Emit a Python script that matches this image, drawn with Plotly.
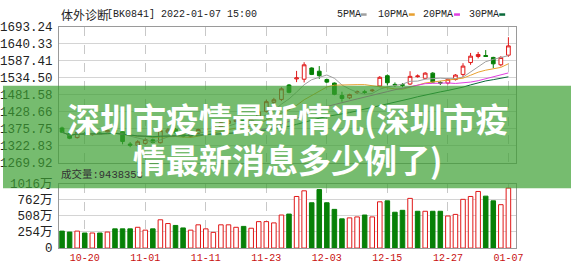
import plotly.graph_objects as go
import pandas as pd

W, H = 578, 276

# ---------------- data ----------------
dates = ["10-15","10-18","10-19","10-20","10-21","10-22","10-25","10-26","10-27","10-28",
         "10-29","11-01","11-02","11-03","11-04","11-05","11-08","11-09","11-10","11-11",
         "11-12","11-15","11-16","11-17","11-18","11-19","11-22","11-23","11-24","11-25",
         "11-26","11-29","11-30","12-01","12-02","12-03","12-06","12-07","12-08","12-09",
         "12-10","12-13","12-14","12-15","12-16","12-17","12-20","12-21","12-22","12-23",
         "12-24","12-27","12-28","12-29","12-30","12-31","01-04","01-05","01-06","01-07"]

open_ = [1378,1361,1348,1361,1357,1362,1366,1371,1366,1328,
         1324,1330,1341,1332,1365,1374,1368,1352,1361,1372,
         1375,1382,1392,1398,1406,1394,1410,1430,1458,1467,
         1512,1531,1530,1565,1555,1529,1518,1479,1472,1488,
         1491,1494,1509,1541,1514,1513,1515,1538,1533,1549,
         1520,1518,1529,1545,1582,1601,1604,1598,1575,1605]
high = [1382,1364,1368,1366,1362,1365,1372,1375,1368,1334,
        1340,1346,1345,1375,1378,1378,1372,1362,1376,1380,
        1386,1398,1404,1410,1410,1412,1436,1466,1472,1505,
        1515,1556,1583,1567,1571,1532,1520,1491,1485,1495,
        1497,1500,1540,1545,1520,1518,1555,1545,1552,1552,
        1524,1533,1546,1580,1612,1615,1621,1600,1602,1661]
low = [1362,1343,1345,1355,1354,1356,1364,1366,1327,1318,
       1320,1326,1330,1330,1360,1360,1348,1348,1358,1368,
       1372,1378,1388,1394,1390,1390,1406,1426,1452,1462,
       1486,1521,1520,1543,1531,1518,1480,1460,1468,1484,
       1484,1490,1505,1511,1506,1505,1512,1535,1530,1518,
       1512,1514,1526,1536,1575,1595,1600,1565,1570,1600]
close = [1365,1346,1365,1358,1359,1359,1370,1369,1336,1324,
         1335,1342,1333,1370,1372,1363,1352,1359,1373,1376,
         1383,1394,1400,1405,1394,1408,1428,1460,1466,1500,
         1489,1534,1575,1545,1541,1521,1483,1470,1482,1491,
         1489,1496,1536,1519,1512,1511,1539,1540,1549,1521,
         1518,1530,1543,1571,1602,1607,1601,1578,1598,1634]

# volume in 万 (10k shares)
volume = [267,252,267,237,237,237,252,302,302,302,
          327,282,302,445,386,356,317,282,366,302,
          247,366,366,327,341,312,416,416,396,520,
          535,812,901,713,921,713,609,460,475,490,
          520,490,728,743,564,594,782,579,579,579,
          579,505,530,767,812,891,817,743,683,944]
# 1 = red hollow (up), 0 = green solid (down), as drawn
vol_up = [0,0,1,0,1,0,1,0,0,0,
          1,1,0,1,1,0,0,1,1,1,
          1,1,1,1,0,1,1,1,1,1,
          0,1,1,0,0,0,0,0,1,1,
          0,1,1,0,0,0,1,0,1,0,
          0,1,1,1,1,1,0,0,1,1]

price_ticks = [1693.24,1640.33,1587.41,1534.50,1481.58,1428.66,1375.75,1322.83,1269.92]
price_tick_text = ["1693.24","1640.33","1587.41","1534.50","1481.58","1428.66","1375.75","1322.83","1269.92"]
vol_ticks = [0,254,508,762,1016]
vol_tick_text = ["0","254万","508万","762万","1016万"]
date_ticks = ["10-20","11-01","11-11","11-23","12-03","12-15","12-27","01-07"]

ma_periods = [5, 10, 20, 30]
ma_names = ["5PMA", "10PMA", "20PMA", "30PMA"]
ma_colors = ["#a0a0a0", "#e8a030", "#e040e0", "#0a6a3a"]

title_cn = "体外诊断"
title_rest = "[BK0841] 2022-01-07 15:00"
vol_label = "成交量:9438353"
banner_1 = "深圳市疫情最新情况(深圳市疫"
banner_2 = "情最新消息多少例了)"

# ---------------- figure ----------------
RED = "#e01818"
GREEN = "#078007"
idx = list(range(len(dates)))
cs = pd.Series(close, dtype=float)

def px(x): return x / W
def py(y): return 1 - y / H

fig = go.Figure()
fig.add_trace(go.Candlestick(
    x=idx, open=open_, high=high, low=low, close=close,
    increasing=dict(line=dict(color=RED, width=1), fillcolor="white"),
    decreasing=dict(line=dict(color=GREEN, width=1), fillcolor=GREEN),
    whiskerwidth=0, xaxis="x", yaxis="y", showlegend=False, hoverinfo="skip"))

for p, n, c in zip(ma_periods, ma_names, ma_colors):
    ma = cs.rolling(p, min_periods=1).mean()
    fig.add_trace(go.Scatter(x=idx, y=ma, mode="lines", line=dict(color=c, width=1),
                             name=n, showlegend=False, xaxis="x", yaxis="y", hoverinfo="skip"))

fig.add_trace(go.Bar(
    x=idx, y=volume, width=0.6,
    marker=dict(color=["white" if u else GREEN for u in vol_up],
                line=dict(color=[RED if u else GREEN for u in vol_up], width=1)),
    xaxis="x2", yaxis="y2", showlegend=False, hoverinfo="skip"))

tickvals_x = [dates.index(d) for d in date_ticks]
axis_font = dict(family="Liberation Mono, Noto Sans CJK SC", size=12.5, color="#222")
common_x = dict(range=[-0.4, 60.0], tickmode="array", tickvals=tickvals_x,
                showgrid=True, gridcolor="#c8c8c8", griddash="dash", gridwidth=1,
                showline=True, mirror=True, linecolor="#9a9a9a", linewidth=1,
                zeroline=False, ticks="", domain=[px(57), px(522)], fixedrange=True)

fig.update_layout(
    width=W, height=H, margin=dict(l=0, r=0, t=0, b=0),
    paper_bgcolor="white", plot_bgcolor="white",
    xaxis=dict(**common_x, anchor="y", showticklabels=False, rangeslider=dict(visible=False)),
    xaxis2=dict(**common_x, anchor="y2", matches="x", ticktext=date_ticks, showticklabels=True,
                tickfont=dict(family="Liberation Mono", size=10, color="#c81010")),
    yaxis=dict(domain=[py(165), py(22)], range=[1269.92, 1693.24], tickmode="array",
               tickvals=price_ticks, ticktext=price_tick_text, tickfont=axis_font,
               showgrid=True, gridcolor="#d4d4d4", showline=True, mirror=True,
               linecolor="#9a9a9a", zeroline=False, ticks="", ticklabelstandoff=3, fixedrange=True),
    yaxis2=dict(domain=[py(255), py(187)], range=[0, 1016], tickmode="array",
                tickvals=vol_ticks, ticktext=vol_tick_text, tickfont=axis_font,
                showgrid=True, gridcolor="#d4d4d4", showline=True, mirror=True,
                linecolor="#9a9a9a", zeroline=False, ticks="", ticklabelstandoff=3, fixedrange=True),
    bargap=0.4,
)

ann = []
ann.append(dict(text=title_cn, x=px(57), y=py(8.5), xanchor="left", yanchor="middle",
                font=dict(family="Noto Sans CJK SC", size=12, color="#222")))
ann.append(dict(text=title_rest, x=px(104), y=py(8.5), xanchor="left", yanchor="middle",
                font=dict(family="Liberation Mono", size=10, color="#222")))
leg_x = [338, 380, 425, 472]
dash_x = [364, 413, 459, 505]
shapes = []
for n, c, lx, dx in zip(ma_names, ma_colors, leg_x, dash_x):
    ann.append(dict(text=n, x=px(lx), y=py(8.7), xanchor="left", yanchor="middle",
                    font=dict(family="Liberation Mono", size=10, color="#222")))
    shapes.append(dict(type="line", xref="paper", yref="paper", x0=px(dx), x1=px(dx + 6),
                       y0=py(9), y1=py(9), line=dict(color=c, width=2.5)))
ann.append(dict(text=vol_label, x=px(57), y=py(177), xanchor="left", yanchor="middle",
                font=dict(family="Liberation Mono, Noto Sans CJK SC", size=10.5, color="#333")))

# overlay banner
shapes.append(dict(type="rect", xref="paper", yref="paper", x0=0, x1=1, y0=py(192), y1=py(84),
                   fillcolor="rgba(60,160,50,0.70)", line=dict(width=0), layer="above"))
ann.append(dict(text="<b>" + banner_1 + "</b>", x=px(289), y=py(118), xanchor="center", yanchor="middle",
                font=dict(family="Noto Sans CJK SC", size=33, color="white")))
ann.append(dict(text="<b>" + banner_2 + "</b>", x=px(289), y=py(161), xanchor="center", yanchor="middle",
                font=dict(family="Noto Sans CJK SC", size=33, color="white")))

for a in ann:
    a.update(xref="paper", yref="paper", showarrow=False)
fig.update_layout(annotations=ann, shapes=shapes)

fig.write_html("out.html", config={"displayModeBar": False})
